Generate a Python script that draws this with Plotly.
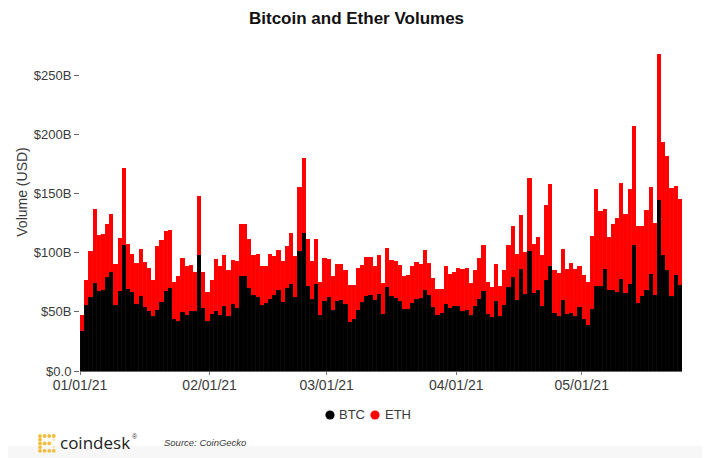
import pandas as pd
import plotly.graph_objects as go

# Daily volumes, in $B
btc_volume = [
    33.8, 55.5, 62.5, 74.3, 67.3, 68.1, 79.4, 83.6, 55.5, 67.6, 106.4, 69.5, 66.7, 56.9, 63.6, 54.0,
    50.7, 46.2, 51.8, 58.6, 67.6, 69.8, 43.9, 41.9, 49.8, 47.6, 50.4, 50.4, 98.2, 53.2, 41.9,
    48.4, 50.7, 47.0, 54.6, 46.4, 56.3, 53.5, 80.5, 80.5, 70.1, 63.9, 62.5, 55.5, 57.4, 61.1, 63.9,
    68.1, 58.6, 70.4, 73.8, 62.5, 101.1, 116.8, 71.8, 60.5, 73.8, 47.6, 59.4,
    62.5, 51.2, 58.8, 60.2, 56.3, 41.7, 44.2, 51.8, 58.0, 63.6, 64.5, 60.2, 65.3, 48.4, 70.9, 63.1,
    61.9, 58.8, 52.1, 52.6, 57.4, 60.8, 61.4, 68.1, 63.9, 54.0, 47.6, 49.3, 56.3, 52.9, 54.9,
    54.6, 50.4, 51.5, 47.0, 54.6, 61.1, 67.6, 47.9, 45.6, 59.1, 46.2, 56.0, 70.9, 79.4, 60.2, 86.1,
    64.7, 101.6, 65.9, 68.1, 54.9, 76.6, 88.4, 49.0, 46.2, 59.7, 47.9, 48.7, 46.4, 54.0,
    43.9, 38.8, 52.6, 71.8, 71.8, 85.9, 68.7, 68.1, 66.7, 77.7, 66.2, 73.5, 106.4, 57.1, 63.6, 68.7,
    82.2, 64.5, 144.7, 97.7, 85.0, 63.1, 81.1, 72.3,
]
eth_volume = [
    13.8, 21.1, 38.8, 62.8, 47.3, 47.9, 44.5, 48.7, 35.2, 45.0, 65.3, 37.4, 31.8, 34.3, 39.7, 38.0,
    36.3, 30.4, 53.5, 52.4, 50.7, 49.5, 31.2, 38.6, 45.6, 41.1, 38.8, 33.2, 49.5, 30.4, 24.8,
    28.7, 44.2, 41.9, 43.6, 39.1, 37.2, 39.4, 43.9, 43.4, 41.4, 34.3, 36.0, 33.5, 31.0, 38.0, 33.2,
    33.8, 34.3, 35.2, 43.1, 34.6, 54.3, 63.3, 40.0, 32.4, 38.0, 27.6, 36.3,
    31.8, 29.0, 31.2, 29.8, 29.3, 31.2, 28.7, 34.9, 31.8, 32.7, 31.8, 28.4, 32.4, 26.2, 33.2, 31.0,
    31.0, 30.7, 27.9, 28.7, 31.0, 31.5, 28.7, 34.3, 27.3, 24.5, 22.0, 20.3, 32.1, 29.3, 28.7,
    32.1, 36.0, 35.8, 27.3, 30.4, 34.1, 39.1, 27.6, 25.3, 31.5, 25.6, 29.6, 35.2, 42.8, 38.3, 45.3,
    35.5, 61.1, 41.7, 45.0, 42.8, 63.6, 69.2, 36.6, 36.6, 43.4, 38.3, 42.8, 40.0, 34.3,
    37.2, 36.0, 61.4, 81.6, 63.3, 51.2, 44.8, 55.7, 62.2, 80.8, 66.4, 80.2, 100.5, 65.0, 59.1, 67.6,
    73.5, 60.5, 123.0, 95.4, 96.3, 91.8, 75.2, 72.9,
]
dates = pd.date_range("2021-01-01", periods=len(btc_volume), freq="D")
y_ticks = [0, 50, 100, 150, 200, 250]
y_labels = ["$0.0", "$50B", "$100B", "$150B", "$200B", "$250B"]

FONT = "Liberation Sans"
DAY_MS = 86400000
TEXT_COLOR = "#3a3a3a"


# the page puts the figure 8px in, so footer pieces are given in page pixels
def px_x(px):
    return (px - 80) / 602


def px_y(py):
    return (371 - py) / 358


def note(text, x, y, size, color=TEXT_COLOR, family=FONT):
    fig.add_annotation(text=text, xref="paper", yref="paper", x=px_x(x), y=px_y(y), xanchor="left",
                       yanchor="middle", showarrow=False, font=dict(family=family, size=size, color=color))


def dot(x, y, r, color):
    return dict(type="circle", xref="paper", yref="paper", x0=px_x(x - r), x1=px_x(x + r),
                y0=px_y(y - r), y1=px_y(y + r), fillcolor=color, line_width=0)


fig = go.Figure()
for name, values, color in [("BTC", btc_volume, "#000000"), ("ETH", eth_volume, "#ff0000")]:
    fig.add_trace(go.Bar(x=dates, y=values, name=name, marker_color=color,
                         marker_line=dict(width=0.5, color="rgba(255,255,255,0.05)"),
                         width=DAY_MS, offset=0))

fig.update_layout(
    width=702, height=450, autosize=False,
    barmode="stack", showlegend=False,
    paper_bgcolor="white", plot_bgcolor="white",
    margin=dict(l=72, r=28, t=5, b=87, autoexpand=False),
    font=dict(family=FONT, size=13, color=TEXT_COLOR),
    title=dict(text="<b>Bitcoin and Ether Volumes</b>", x=0.4965, xanchor="center", y=0.978, yanchor="middle",
               font=dict(size=17, color="#111111")),
)
fig.update_xaxes(
    type="date", range=["2021-01-01", "2021-05-25"], dtick="M1", tick0="2021-01-01", tickformat="%m/%d/%y",
    tickangle=0, showgrid=False, zeroline=False, showline=True, linecolor="#666666", linewidth=1,
    ticks="outside", ticklen=3, tickcolor="#777777", tickfont=dict(size=14), ticklabelstandoff=-2,
)
fig.update_yaxes(
    range=[0, 302.4], tickvals=y_ticks, ticktext=y_labels, showgrid=False, zeroline=False, showline=False,
    ticks="outside", ticklen=5, tickcolor="#666666", tickfont=dict(size=13),
    title=dict(text="Volume (USD)", standoff=2, font=dict(size=14)),
)

# footer strip, logo and the hand placed legend
shapes = [dict(type="rect", xref="paper", yref="paper", layer="below",
               x0=px_x(0), x1=px_x(710), y0=px_y(446), y1=px_y(458),
               fillcolor="#f7f7f7", line_width=0)]
logo_dots = [(0, 0), (1, 0), (2, 0), (3, 0), (0, 1), (0, 2), (1, 2), (2, 2), (0, 3), (0, 4), (1, 4), (2, 4), (3, 4)]
for col, row in logo_dots:
    shapes.append(dot(40 + col * 4.6, 436 + row * 3.7, 1.9, "#f3bd3a"))
for col, row in [(3, 1), (3, 3)]:
    shapes.append(dot(40 + col * 4.6, 436 + row * 3.7, 1.2, "#f9e3ad"))
shapes.append(dot(330, 415, 4.6, "#000000"))
shapes.append(dot(375, 415, 4.6, "#ff0000"))
fig.update_layout(shapes=shapes)

note("BTC", 337, 414, 13)
note("ETH", 383, 414, 13)
note("coindesk", 58, 442, 17, color="#222222", family="Open Sans")
note("®", 130, 436, 7)
note("<i>Source: CoinGecko</i>", 162, 442, 9.5)

fig.write_html("out.html")
